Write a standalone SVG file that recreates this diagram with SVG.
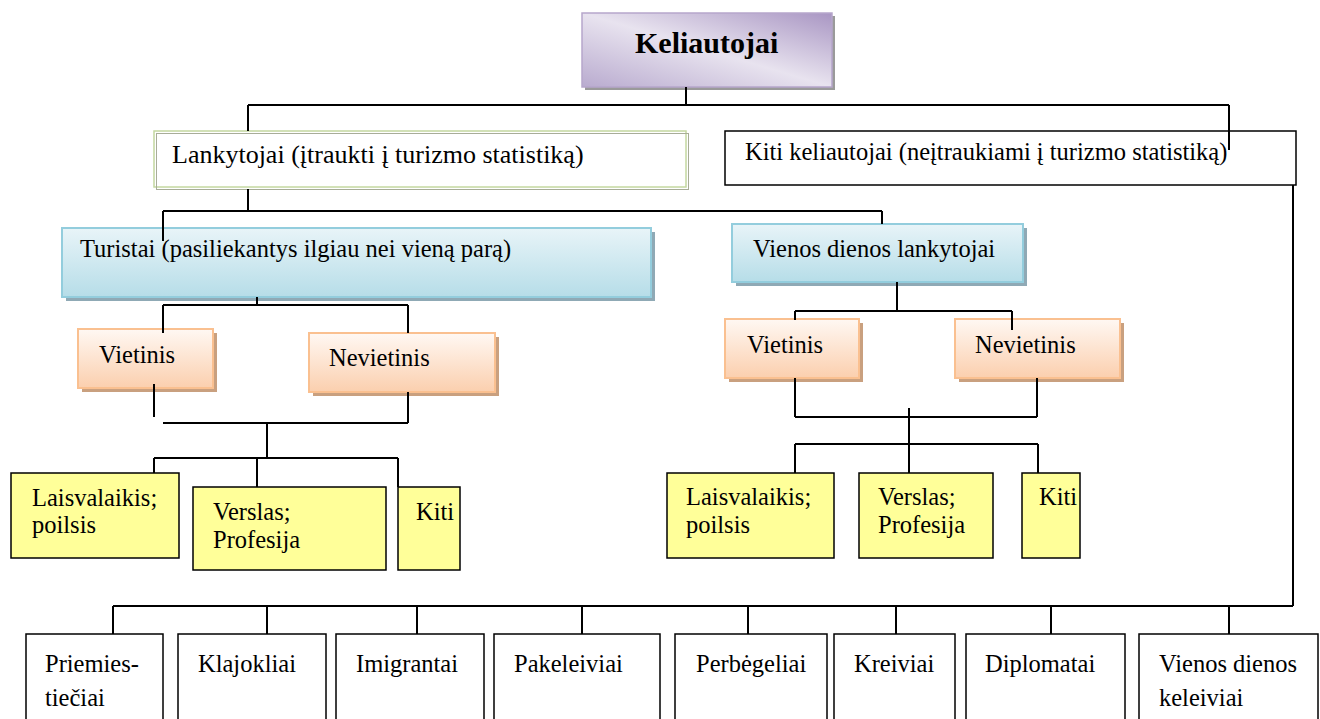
<svg xmlns="http://www.w3.org/2000/svg" width="1320" height="719" viewBox="0 0 1320 719">
<defs>
<linearGradient id="gPurple" x1="1" y1="0" x2="0" y2="1">
<stop offset="0" stop-color="#a996c3"/>
<stop offset="0.5" stop-color="#e8e3ef"/>
<stop offset="1" stop-color="#b9abcf"/>
</linearGradient>
<linearGradient id="gBlue" x1="0" y1="0" x2="0" y2="1">
<stop offset="0" stop-color="#e8f4f8"/>
<stop offset="1" stop-color="#b6dde8"/>
</linearGradient>
<linearGradient id="gOrange" x1="0" y1="0" x2="0" y2="1">
<stop offset="0" stop-color="#fff8f3"/>
<stop offset="1" stop-color="#fbcfae"/>
</linearGradient>
<style>
text{font-family:"Liberation Serif","Times New Roman",serif;font-size:24.5px;fill:#000}
.b{font-weight:bold;font-size:30px}
.lg{font-size:26px}
.shP{fill:#9a9a9a}
.shB{fill:#8fa9b5}
.shO{fill:#c9a07f}
.purple{fill:url(#gPurple);stroke:#b6a6cb;stroke-width:1.5}
.blue{fill:url(#gBlue);stroke:#93cddd;stroke-width:2}
.orange{fill:url(#gOrange);stroke:#fac090;stroke-width:2}
.yel{fill:#ffff99;stroke:#000;stroke-width:1.5}
.wht{fill:#fff;stroke:#000;stroke-width:1.5}
.conn{fill:none;stroke:#000;stroke-width:2}
</style>
</defs>
<rect width="1320" height="719" fill="#fff"/>

<g id="keliautojai">
<rect class="shP" x="585" y="16" width="250" height="74"/>
<rect class="purple" x="582" y="13" width="250" height="74"/>
<text class="b" x="635" y="53">Keliautojai</text>
</g>

<g id="lankytojai">
<rect x="154" y="131" width="532" height="56" fill="#fff" stroke="#c4d8a0" stroke-width="1.5"/>
<rect x="156.5" y="133.5" width="532" height="56" fill="none" stroke="#a8ad98" stroke-width="1"/>
<text class="lg" x="172" y="163">Lankytojai (įtraukti į turizmo statistiką)</text>
</g>

<g id="kiti-keliautojai">
<rect class="wht" x="725" y="131" width="571" height="54"/>
<text x="745" y="160">Kiti keliautojai (neįtraukiami į turizmo statistiką)</text>
</g>

<g id="turistai">
<rect class="shB" x="66" y="232" width="589" height="69"/>
<rect class="blue" x="62" y="228" width="589" height="69"/>
<text x="80" y="257">Turistai (pasiliekantys ilgiau nei vieną parą)</text>
</g>

<g id="vienos-dienos-lankytojai">
<rect class="shB" x="736" y="228" width="291" height="58"/>
<rect class="blue" x="732" y="224" width="291" height="58"/>
<text x="753" y="257">Vienos dienos lankytojai</text>
</g>

<g id="vietinis-1">
<rect class="shO" x="82" y="333" width="135" height="59"/>
<rect class="orange" x="78" y="329" width="135" height="59"/>
<text x="99" y="363">Vietinis</text>
</g>

<g id="nevietinis-1">
<rect class="shO" x="313" y="337" width="186" height="59"/>
<rect class="orange" x="309" y="333" width="186" height="59"/>
<text x="329" y="366">Nevietinis</text>
</g>

<g id="vietinis-2">
<rect class="shO" x="729" y="323" width="134" height="59"/>
<rect class="orange" x="725" y="319" width="134" height="59"/>
<text x="747" y="353">Vietinis</text>
</g>

<g id="nevietinis-2">
<rect class="shO" x="959" y="323" width="165" height="59"/>
<rect class="orange" x="955" y="319" width="165" height="59"/>
<text x="975" y="353">Nevietinis</text>
</g>

<g id="laisvalaikis-1">
<rect class="yel" x="11" y="473" width="168" height="85"/>
<text x="32" y="506">Laisvalaikis;</text>
<text x="32" y="533">poilsis</text>
</g>

<g id="verslas-1">
<rect class="yel" x="193" y="487" width="193" height="83"/>
<text x="213" y="520">Verslas;</text>
<text x="213" y="548">Profesija</text>
</g>

<g id="kiti-1">
<rect class="yel" x="398" y="487" width="62" height="83"/>
<text x="416" y="520">Kiti</text>
</g>

<g id="laisvalaikis-2">
<rect class="yel" x="667" y="473" width="167" height="85"/>
<text x="686" y="505">Laisvalaikis;</text>
<text x="686" y="533">poilsis</text>
</g>

<g id="verslas-2">
<rect class="yel" x="859" y="473" width="134" height="85"/>
<text x="878" y="505">Verslas;</text>
<text x="878" y="533">Profesija</text>
</g>

<g id="kiti-2">
<rect class="yel" x="1022" y="473" width="58" height="85"/>
<text x="1039" y="505">Kiti</text>
</g>

<g id="priemiestieciai">
<rect class="wht" x="26" y="634" width="137" height="98"/>
<text x="45" y="672">Priemies-</text>
<text x="45" y="706">tiečiai</text>
</g>
<g id="klajokliai">
<rect class="wht" x="178" y="634" width="148" height="98"/>
<text x="198" y="672">Klajokliai</text>
</g>
<g id="imigrantai">
<rect class="wht" x="336" y="634" width="148" height="98"/>
<text x="356" y="672">Imigrantai</text>
</g>
<g id="pakeleiviai">
<rect class="wht" x="494" y="634" width="166" height="98"/>
<text x="514" y="672">Pakeleiviai</text>
</g>
<g id="perbegeliai">
<rect class="wht" x="675" y="634" width="152" height="98"/>
<text x="696" y="672">Perbėgeliai</text>
</g>
<g id="kreiviai">
<rect class="wht" x="834" y="634" width="121" height="98"/>
<text x="854" y="672">Kreiviai</text>
</g>
<g id="diplomatai">
<rect class="wht" x="966" y="634" width="159" height="98"/>
<text x="985" y="672">Diplomatai</text>
</g>
<g id="vienos-dienos-keleiviai">
<rect class="wht" x="1139" y="634" width="179" height="98"/>
<text x="1159" y="672">Vienos dienos</text>
<text x="1159" y="706">keleiviai</text>
</g>

<g id="connectors">
<path class="conn" d="M686,87V105 M248,105H1229 M248,105V131 M1229,105V150"/>
<path class="conn" d="M248,189V211 M163,211H882 M163,211V241 M882,211V224"/>
<path class="conn" d="M257,297V305 M163,305H408 M163,305V333 M408,305V333"/>
<path class="conn" d="M154,384V417 M408,392V423 M163,423H408 M267,423V458 M154,458H398 M154,458V473 M257,458V487 M398,458V487"/>
<path class="conn" d="M897,282V311 M795,311H1012 M795,311V320 M1012,311V330"/>
<path class="conn" d="M795,378V417 M1037,378V417 M795,417H1037 M909,408V444 M795,444H1038 M795,444V473 M909,444V473 M1038,444V473"/>
<path class="conn" d="M1293,185V606 M113,606H1293 M113,606V634 M267,606V634 M417,606V634 M582,606V634 M748,606V634 M896,606V634 M1051,606V634 M1229,606V634"/>
</g>
</svg>
